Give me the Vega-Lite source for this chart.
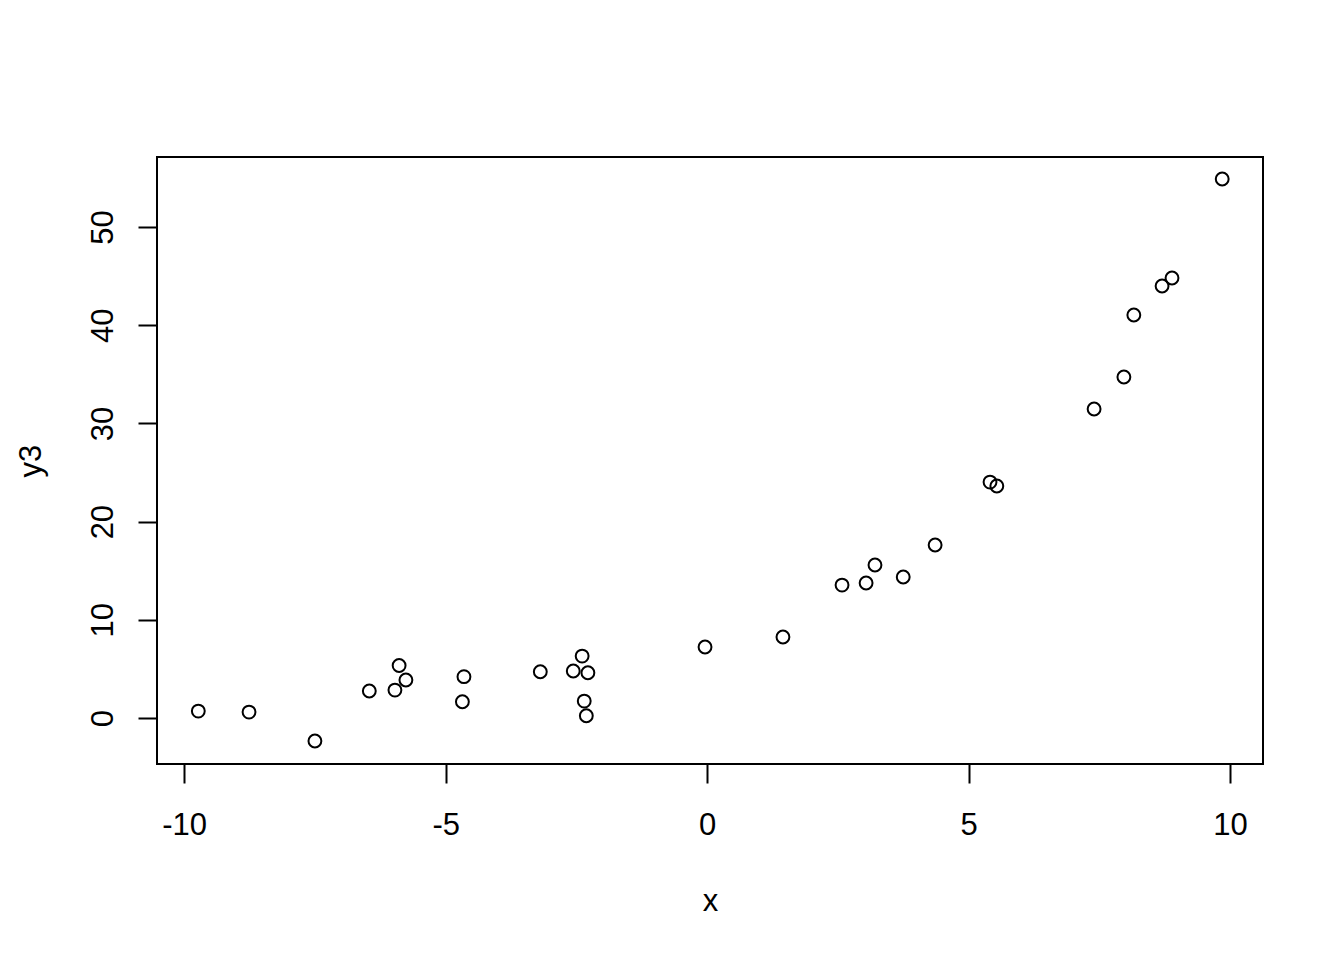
{
  "$schema": "https://vega.github.io/schema/vega-lite/v6.json",
  "width": 1106,
  "height": 607,
  "autosize": {"type": "none"},
  "padding": {"left": 157, "top": 157, "right": 81, "bottom": 196},
  "background": "white",
  "view": {"stroke": "black", "strokeWidth": 2, "fill": null},
  "config": {
    "font": "Liberation Sans",
    "axis": {
      "grid": false,
      "domain": false,
      "ticks": true,
      "tickColor": "black",
      "tickWidth": 2,
      "tickSize": 19,
      "labelFont": "Liberation Sans",
      "labelFontSize": 31,
      "labelColor": "black",
      "titleFont": "Liberation Sans",
      "titleFontSize": 31,
      "titleFontWeight": "normal",
      "titleColor": "black"
    }
  },
  "data": {
    "values": [
      {"x": -9.73, "y3": 0.71},
      {"x": -8.76, "y3": 0.61},
      {"x": -7.50, "y3": -2.34},
      {"x": -6.46, "y3": 2.75},
      {"x": -5.97, "y3": 2.85},
      {"x": -5.89, "y3": 5.35},
      {"x": -5.76, "y3": 3.87},
      {"x": -4.68, "y3": 1.66},
      {"x": -4.65, "y3": 4.21},
      {"x": -3.19, "y3": 4.71},
      {"x": -2.56, "y3": 4.79},
      {"x": -2.39, "y3": 6.31},
      {"x": -2.35, "y3": 1.73},
      {"x": -2.31, "y3": 0.23},
      {"x": -2.28, "y3": 4.61},
      {"x": -0.04, "y3": 7.23},
      {"x": 1.45, "y3": 8.25},
      {"x": 2.58, "y3": 13.54},
      {"x": 3.04, "y3": 13.75},
      {"x": 3.21, "y3": 15.58},
      {"x": 3.75, "y3": 14.36},
      {"x": 4.36, "y3": 17.62},
      {"x": 5.41, "y3": 24.03},
      {"x": 5.54, "y3": 23.63},
      {"x": 7.40, "y3": 31.47},
      {"x": 7.97, "y3": 34.73},
      {"x": 8.16, "y3": 41.04},
      {"x": 8.70, "y3": 43.99},
      {"x": 8.89, "y3": 44.81},
      {"x": 9.85, "y3": 54.89}
    ]
  },
  "mark": {"type": "point", "shape": "circle", "filled": false, "stroke": "black", "strokeWidth": 2, "size": 165, "opacity": 1},
  "encoding": {
    "x": {
      "field": "x",
      "type": "quantitative",
      "scale": {"domain": [-10.52, 10.63], "nice": false, "zero": false},
      "axis": {
        "title": "x",
        "values": [-10, -5, 0, 5, 10],
        "labelExpr": "datum.value < 0 ? '-' + abs(datum.value) : '' + datum.value",
        "labelPadding": 27,
        "labelBaseline": "top",
        "labelFlush": false,
        "labelOverlap": false,
        "titleY": 146,
        "titleBaseline": "alphabetic"
      }
    },
    "y": {
      "field": "y3",
      "type": "quantitative",
      "scale": {"domain": [-4.68, 57.13], "nice": false, "zero": false},
      "axis": {
        "title": "y3",
        "values": [0, 10, 20, 30, 40, 50],
        "labelAngle": 270,
        "labelAlign": "center",
        "labelBaseline": "alphabetic",
        "labelPadding": 26,
        "labelFlush": false,
        "labelOverlap": false,
        "titleAngle": 270,
        "titleX": -117,
        "titleY": 303.5,
        "titleAlign": "center",
        "titleBaseline": "alphabetic"
      }
    }
  }
}
